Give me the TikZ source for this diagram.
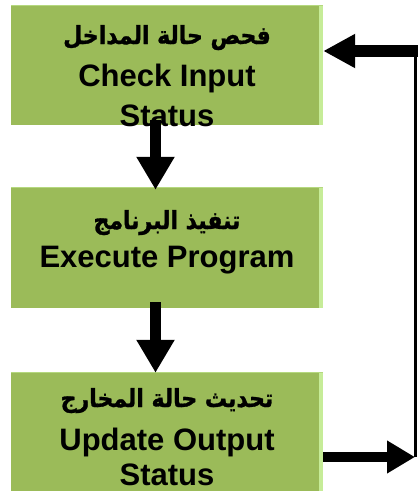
\documentclass[tikz,border=0pt]{standalone}
\usepackage{fontspec}
\setmainfont{Liberation Sans}
\newfontfamily\arabicfont[Script=Arabic, FakeStretch=0.88, BoldFeatures={FakeBold=1.2}]{DejaVu Sans}
\TeXXeTstate=1
\usetikzlibrary{arrows.meta}
\definecolor{boxgreen}{RGB}{155,187,89}
\definecolor{boxedge}{RGB}{198,236,152}
\begin{document}
\begin{tikzpicture}[x=1pt,y=-1pt,
  stepbox/.style={rectangle, inner sep=0pt, fill=boxgreen, minimum width=312pt,
    path picture={
      \fill[boxedge] ([xshift=-4pt]path picture bounding box.north east)
        rectangle (path picture bounding box.south east);
      \fill[boxedge!60!boxgreen] (path picture bounding box.north west)
        rectangle ([yshift=-1pt]path picture bounding box.north east);
    }},
  en/.style={font=\bfseries\fontsize{31}{36}\selectfont, anchor=base, inner sep=0pt},
  ar/.style={font=\arabicfont\bfseries\fontsize{25}{30}\selectfont, anchor=base, inner sep=0pt},
  flow/.style={line width=11pt, -{Triangle[width=36pt,length=33pt]}},
]
\useasboundingbox (0,0) rectangle (418,491);

% process boxes
\node[stepbox, minimum height=120pt] (b1) at (167,65) {};
\node[stepbox, minimum height=121pt] (b2) at (167,247.5) {};
\node[stepbox, minimum height=119pt] (b3) at (167,431.5) {};

% box labels
\node[ar] (t1a) at (167,44) {\beginR فحص حالة المداخل\endR};
\node[en] (t1b) at (167,86) {Check Input};
\node[en] (t1c) at (167,126) {Status};

\node[ar] (t2a) at (167,229) {\beginR تنفيذ البرنامج\endR};
\node[en] (t2b) at (167,267) {Execute Program};

\node[ar] (t3a) at (167,407) {\beginR تحديث حالة المخارج\endR};
\node[en] (t3b) at (167,450) {Update Output};
\node[en] (t3c) at (167,485) {Status};

% main flow
\draw[flow] ([xshift=-11.5pt,yshift=5pt]b1.south) -- ([xshift=-11.5pt,yshift=-3pt]b2.north);
\draw[flow] ([xshift=-11.5pt,yshift=6pt]b2.south) -- ([xshift=-11.5pt,yshift=-1pt]b3.north);

% feedback loop
\coordinate (rb) at (415.5,457);
\coordinate (rt) at (415.5,51);
\draw[line width=10pt, -{Triangle[width=31pt,length=28pt]}] ([yshift=-25.5pt]b3.east) -- ([xshift=-0.5pt]rb);
\draw[line width=3.5pt] (rb) -- (rt);
\draw[line width=12pt, -{Triangle[width=32pt,length=32pt]}] ([xshift=2.5pt]rt) -- ([yshift=14pt]b1.east);
\end{tikzpicture}
\end{document}
